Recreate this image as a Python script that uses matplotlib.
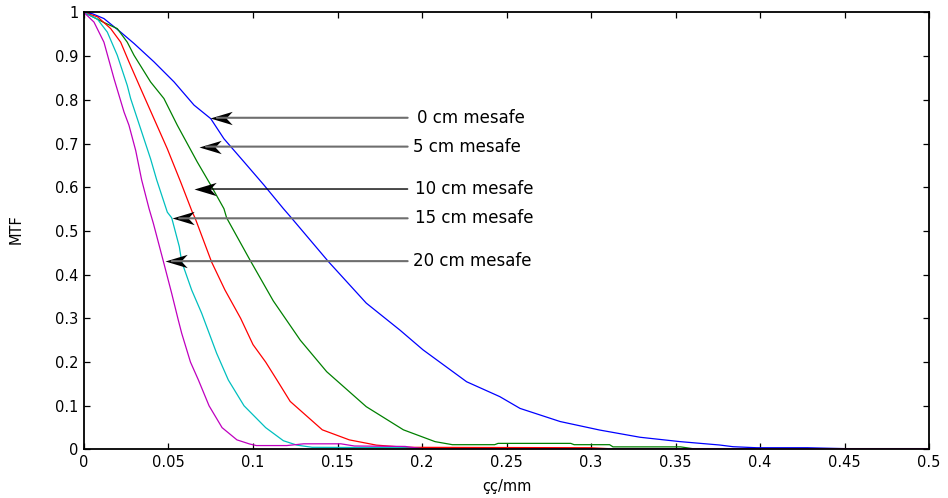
import matplotlib
matplotlib.use("Agg")
import matplotlib.pyplot as plt
from matplotlib.path import Path

plt.rcParams['font.family'] = ['DejaVu Sans']

# ---- data ----
x_0cm = [0, 0.005, 0.0118, 0.0217, 0.0296, 0.0414, 0.0533, 0.0651, 0.075, 0.0828, 0.0947, 0.1065,
         0.118, 0.1225, 0.1446, 0.167, 0.187, 0.2006, 0.2264, 0.246, 0.258, 0.2817, 0.305, 0.329,
         0.3527, 0.376, 0.384, 0.398, 0.428, 0.45, 0.5]
y_0cm = [1, 0.997, 0.986, 0.955, 0.929, 0.887, 0.841, 0.788, 0.757, 0.711, 0.658, 0.605,
         0.551, 0.531, 0.43, 0.335, 0.273, 0.228, 0.155, 0.121, 0.094, 0.064, 0.0446, 0.028,
         0.018, 0.0103, 0.0064, 0.004, 0.004, 0.002, 0.002]

x_5cm = [0, 0.0118, 0.0197, 0.0256, 0.0296, 0.0394, 0.0473, 0.0552, 0.067, 0.075, 0.0828, 0.0844,
         0.098, 0.112, 0.128, 0.1436, 0.167, 0.189, 0.2077, 0.218, 0.243, 0.245, 0.288, 0.29,
         0.311, 0.313, 0.353, 0.36, 0.5]
y_5cm = [1, 0.977, 0.963, 0.932, 0.902, 0.841, 0.803, 0.742, 0.658, 0.605, 0.551, 0.53,
         0.435, 0.34, 0.25, 0.178, 0.098, 0.045, 0.018, 0.011, 0.011, 0.014, 0.014, 0.011,
         0.011, 0.006, 0.006, 0.002, 0.002]

x_10cm = [0, 0.008, 0.0158, 0.0217, 0.0266, 0.0335, 0.0414, 0.0493, 0.0572, 0.0641, 0.0657, 0.0755,
          0.0834, 0.0927, 0.1, 0.1075, 0.114, 0.122, 0.141, 0.157, 0.173, 0.19, 0.3, 0.31, 0.5]
y_10cm = [1, 0.99, 0.963, 0.932, 0.887, 0.826, 0.757, 0.688, 0.612, 0.543, 0.53, 0.429,
          0.365, 0.3, 0.24, 0.2, 0.16, 0.11, 0.045, 0.022, 0.01, 0.005, 0.004, 0.002, 0.002]

x_15cm = [0, 0.0079, 0.0138, 0.0197, 0.0256, 0.0276, 0.0335, 0.0394, 0.043, 0.0493, 0.0519, 0.0564,
          0.0578, 0.0637, 0.0696, 0.0785, 0.0854, 0.0947, 0.1075, 0.118, 0.126, 0.135, 0.19, 0.2, 0.5]
y_15cm = [1, 0.985, 0.955, 0.902, 0.833, 0.803, 0.734, 0.665, 0.617, 0.543, 0.53, 0.464,
          0.43, 0.365, 0.312, 0.22, 0.159, 0.1, 0.05, 0.02, 0.01, 0.005, 0.004, 0.002, 0.002]

x_20cm = [0, 0.0059, 0.0118, 0.0178, 0.0237, 0.0266, 0.0306, 0.0341, 0.0385, 0.041, 0.047, 0.0519,
          0.0558, 0.0578, 0.063, 0.0677, 0.074, 0.0817, 0.0905, 0.098, 0.102, 0.12, 0.13, 0.152,
          0.16, 0.19, 0.2, 0.5]
y_20cm = [1, 0.978, 0.932, 0.848, 0.772, 0.742, 0.684, 0.617, 0.551, 0.518, 0.43, 0.357,
          0.296, 0.266, 0.2, 0.159, 0.1, 0.05, 0.022, 0.0126, 0.009, 0.009, 0.013, 0.013,
          0.008, 0.007, 0.002, 0.002]

series_x = [x_0cm, x_5cm, x_10cm, x_15cm, x_20cm]
series_y = [y_0cm, y_5cm, y_10cm, y_15cm, y_20cm]
series_colors = ['#0000FF', '#008000', '#FF0000', '#00BFBF', '#BF00BF']

labels = ['0 cm mesafe', '5 cm mesafe', '10 cm mesafe', '15 cm mesafe', '20 cm mesafe']
label_y = [0.759, 0.693, 0.596, 0.529, 0.431]
arrow_tip_x = [0.0746, 0.0682, 0.0653, 0.0523, 0.0479]
arrow_tail_x = 0.1915
text_x = [0.197, 0.1947, 0.196, 0.196, 0.1947]
arrow_colors = ['#6e6e6e', '#6e6e6e', '#000000', '#6e6e6e', '#6e6e6e']
arrow_lw = [1.5, 1.5, 1.0, 1.5, 1.5]

xticks = [0, 0.05, 0.1, 0.15, 0.2, 0.25, 0.3, 0.35, 0.4, 0.45, 0.5]
xtick_labels = ['0', '0.05', '0.1', '0.15', '0.2', '0.25', '0.3', '0.35', '0.4', '0.45', '0.5']
yticks = [0, 0.1, 0.2, 0.3, 0.4, 0.5, 0.6, 0.7, 0.8, 0.9, 1]
ytick_labels = ['0', '0.1', '0.2', '0.3', '0.4', '0.5', '0.6', '0.7', '0.8', '0.9', '1']

# notched arrow-head marker (tip at the origin, pointing left)
head = Path([(0, 0), (1.0, -0.30), (0.72, 0), (1.0, 0.30), (0, 0)],
            [Path.MOVETO, Path.LINETO, Path.LINETO, Path.LINETO, Path.CLOSEPOLY])

# ---- figure ----
fig = plt.figure(figsize=(9.48, 4.98), dpi=100)
ax = fig.add_axes([0.0886, 0.0974, 0.8914, 0.8776])

for xs, ys, c in zip(series_x, series_y, series_colors):
    ax.plot(xs, ys, color=c, lw=0.9)

for lab, ly, tx, txx, ac, alw in zip(labels, label_y, arrow_tip_x, text_x, arrow_colors, arrow_lw):
    ax.annotate('', xy=(tx + 0.004, ly), xytext=(arrow_tail_x, ly),
                arrowprops=dict(arrowstyle='-', color=ac, lw=alw,
                                shrinkA=0, shrinkB=0))
    ax.plot([tx], [ly], marker=head, markersize=32, color='black',
            markeredgewidth=0, linestyle='none')
    ax.text(txx, ly, lab, ha='left', va='center', fontsize=12, color='black')

ax.set_xlim(0, 0.5)
ax.set_ylim(0, 1)
ax.set_xticks(xticks)
ax.set_xticklabels(xtick_labels)
ax.set_yticks(yticks)
ax.set_yticklabels(ytick_labels)
ax.tick_params(direction='in', length=4.5, width=0.9, top=True, right=True,
               labelsize=10.5, pad=4)
for s in ax.spines.values():
    s.set_linewidth(1.3)

ax.set_xlabel('çç/mm', fontsize=10.5)
ax.xaxis.set_label_coords(0.5, -0.068)
ax.set_ylabel('MTF', fontsize=10.5)
ax.yaxis.set_label_coords(-0.071, 0.505)

fig.savefig('out.png', dpi=100)
